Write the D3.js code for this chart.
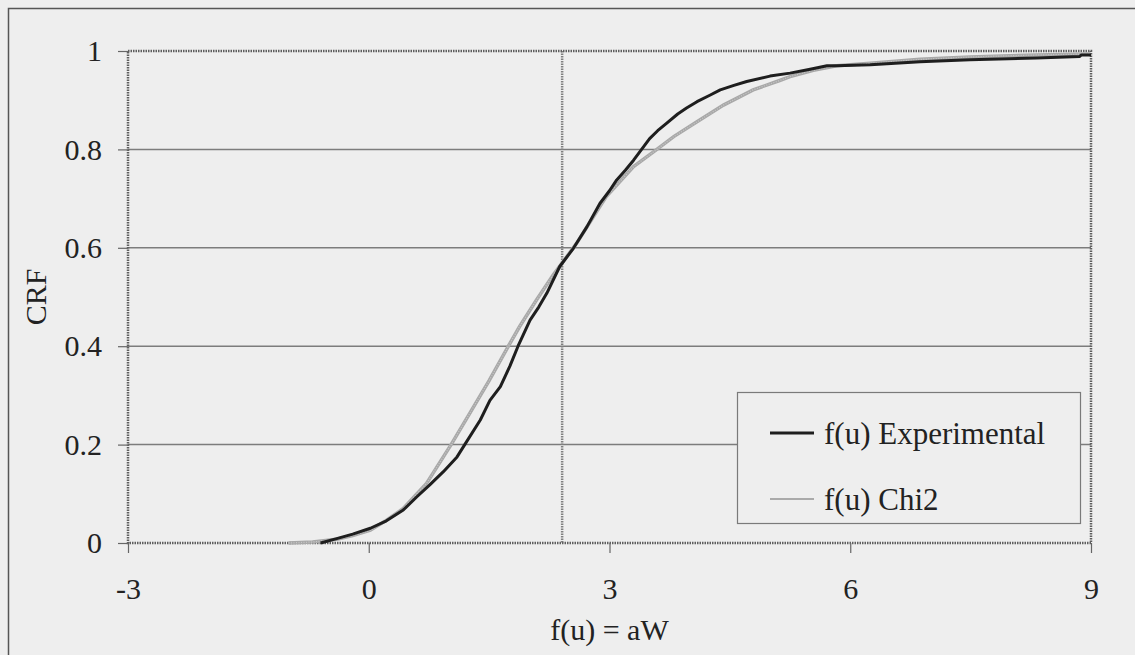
<!DOCTYPE html>
<html>
<head>
<meta charset="utf-8">
<script src="https://cdn.jsdelivr.net/npm/d3@7"></script>
<style>
  body { margin: 0; background: #eeeeee; }
  svg { display: block; font-family: "Liberation Serif", "Times New Roman", serif; }
</style>
</head>
<body>
<div id="chart"></div>
<script>
// data
const xTicks = [-3, 0, 3, 6, 9];
const yTicks = [0, 0.2, 0.4, 0.6, 0.8, 1];
const yTickLabels = ["0", "0.2", "0.4", "0.6", "0.8", "1"];
const seriesNames = ["f(u) Experimental", "f(u) Chi2"];
const axisCrossX = 2.41;

const expX = [-0.6, -0.4, -0.2, 0.02, 0.22, 0.43, 0.6, 0.76, 0.93, 1.1, 1.2, 1.39, 1.51, 1.64, 1.76, 1.86, 2.01, 2.12, 2.22, 2.38, 2.55, 2.72, 2.88, 3.0, 3.09, 3.2, 3.3, 3.4, 3.5, 3.6, 3.71, 3.85, 3.96, 4.09, 4.25, 4.38, 4.55, 4.71, 5.0, 5.25, 5.5, 5.71, 5.83, 6.25, 6.87, 7.49, 8.32, 8.86, 8.88, 9.0];
const expY = [0, 0.009, 0.018, 0.03, 0.045, 0.067, 0.094, 0.118, 0.145, 0.175, 0.201, 0.25, 0.29, 0.318, 0.36, 0.4, 0.453, 0.48, 0.508, 0.562, 0.599, 0.643, 0.69, 0.716, 0.738, 0.758, 0.778, 0.8, 0.822, 0.838, 0.853, 0.872, 0.884, 0.897, 0.91, 0.921, 0.93, 0.938, 0.949, 0.955, 0.963, 0.97, 0.97, 0.972, 0.978, 0.982, 0.986, 0.989, 0.992, 0.992];

const chiX = [-1.0, -0.7, -0.4, -0.2, 0.02, 0.2, 0.43, 0.72, 1.03, 1.26, 1.5, 1.74, 1.88, 2.09, 2.3, 2.59, 2.88, 2.96, 3.3, 3.59, 3.8, 4.09, 4.42, 4.79, 5.12, 5.25, 5.54, 5.83, 6.25, 6.87, 7.49, 8.32, 8.99];
const chiY = [0, 0.002, 0.0075, 0.015, 0.026, 0.044, 0.07, 0.121, 0.201, 0.264, 0.33, 0.4, 0.44, 0.494, 0.545, 0.609, 0.684, 0.704, 0.765, 0.8, 0.826, 0.856, 0.89, 0.921, 0.94, 0.948, 0.961, 0.97, 0.975, 0.983, 0.988, 0.992, 0.994];

const width = 1135, height = 655;
const plot = { left: 128, right: 1091, top: 51, bottom: 543 };
const fontSize = "30px";

const svg = d3.select("#chart")
    .append("svg")
    .attr("width", width)
    .attr("height", height);

// outer frame
svg.append("rect")
    .attr("x", 8.5).attr("y", 8.5)
    .attr("width", width + 20).attr("height", height + 20)
    .attr("fill", "#eeeeee")
    .attr("stroke", "#555")
    .attr("stroke-width", 1.5);

const x = d3.scaleLinear().domain([-3, 9]).range([plot.left, plot.right]);
const y = d3.scaleLinear().domain([0, 1]).range([plot.bottom, plot.top]);

// horizontal gridlines
svg.append("g")
    .selectAll("line")
    .data(yTicks.filter(d => d > 0 && d < 1))
    .join("line")
    .attr("x1", plot.left).attr("x2", plot.right)
    .attr("y1", d => y(d)).attr("y2", d => y(d))
    .attr("stroke", "#7c7c7c")
    .attr("stroke-width", 1.5);

// vertical line where the value axis crosses
svg.append("line")
    .attr("x1", x(axisCrossX)).attr("x2", x(axisCrossX))
    .attr("y1", plot.top).attr("y2", plot.bottom)
    .attr("stroke", "#808080")
    .attr("stroke-width", 2.5)
    .attr("stroke-dasharray", "1.5,1");

// plot area border
svg.append("rect")
    .attr("x", plot.left).attr("y", plot.top)
    .attr("width", plot.right - plot.left)
    .attr("height", plot.bottom - plot.top)
    .attr("fill", "none")
    .attr("stroke", "#5e5e5e")
    .attr("stroke-width", 2.5)
    .attr("stroke-dasharray", "1.5,1");

// axes
const yAxis = svg.append("g")
    .attr("transform", `translate(${plot.left},0)`)
    .call(d3.axisLeft(y).tickValues(yTicks).tickFormat((d, i) => yTickLabels[i]).tickSize(10).tickPadding(16));
const xAxis = svg.append("g")
    .attr("transform", `translate(0,${plot.bottom})`)
    .call(d3.axisBottom(x).tickValues(xTicks).tickFormat(d => String(d)).tickSize(10).tickPadding(25));

[yAxis, xAxis].forEach(g => {
    g.select(".domain").remove();
    g.selectAll(".tick line").attr("stroke", "#666").attr("stroke-width", 1.2);
    g.selectAll(".tick text")
        .attr("fill", "#222")
        .style("font-size", fontSize)
        .style("font-family", "Liberation Serif, serif");
});

// axis titles
svg.append("text")
    .attr("x", (plot.left + plot.right) / 2)
    .attr("y", 640)
    .attr("text-anchor", "middle")
    .attr("fill", "#222")
    .style("font-size", fontSize)
    .text("f(u) = aW");

svg.append("text")
    .attr("transform", `translate(46,${(plot.top + plot.bottom) / 2}) rotate(-90)`)
    .attr("text-anchor", "middle")
    .attr("fill", "#222")
    .style("font-size", fontSize)
    .text("CRF");

// lines
const line = d3.line()
    .x(d => x(d[0]))
    .y(d => y(d[1]));

const chiData = chiX.map((v, i) => [v, chiY[i]]);
const expData = expX.map((v, i) => [v, expY[i]]);

svg.append("path")
    .datum(chiData)
    .attr("d", line)
    .attr("fill", "none")
    .attr("stroke", "#a8a8a8")
    .attr("stroke-width", 3.5);
svg.append("path")
    .datum(chiData)
    .attr("d", line)
    .attr("fill", "none")
    .attr("stroke", "#c8c8c8")
    .attr("stroke-width", 1.2)
    .attr("stroke-dasharray", "1,1.5");

svg.append("path")
    .datum(expData)
    .attr("d", line)
    .attr("fill", "none")
    .attr("stroke", "#1e1e1e")
    .attr("stroke-width", 3)
    .attr("stroke-linejoin", "round");

// legend
const legend = svg.append("g");
legend.append("rect")
    .attr("x", 737.5).attr("y", 392.5)
    .attr("width", 343).attr("height", 131)
    .attr("fill", "#eeeeee")
    .attr("stroke", "#7a7a7a")
    .attr("stroke-width", 1.2);

const legendRows = [
    { name: seriesNames[0], y: 433, stroke: "#1e1e1e", width: 3 },
    { name: seriesNames[1], y: 499, stroke: "#aaaaaa", width: 2 }
];
legend.selectAll("line")
    .data(legendRows)
    .join("line")
    .attr("x1", 770).attr("x2", 814)
    .attr("y1", d => d.y).attr("y2", d => d.y)
    .attr("stroke", d => d.stroke)
    .attr("stroke-width", d => d.width);
legend.selectAll("text")
    .data(legendRows)
    .join("text")
    .attr("x", 824)
    .attr("y", d => d.y + 11)
    .attr("fill", "#222")
    .style("font-size", "31px")
    .text(d => d.name);
</script>
</body>
</html>
